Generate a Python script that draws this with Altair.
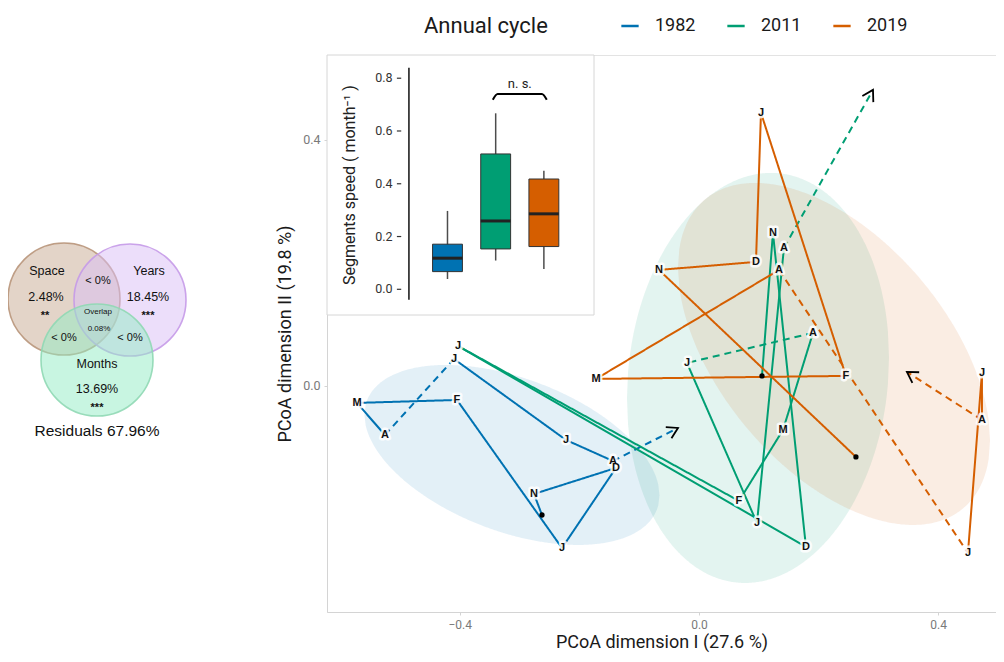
import math
import numpy as np
import pandas as pd
import altair as alt

# ---------------- data ----------------
years = ["1982", "2011", "2019"]
year_colors = ["#0072B2", "#009E73", "#D55E00"]

# path order: start point, N, D, J, F, M, A, J, J, A, arrow end
month_labels = ["", "N", "D", "J", "F", "M", "A", "J", "J", "A", ""]
segment_style = ["solid", "solid", "solid", "solid", "solid", "solid",
                 "dashed", "solid", "solid", "dashed"]

pc1_1982 = [-0.2625, -0.2759, -0.1388, -0.2291, -0.4047, -0.5719, -0.5251, -0.4097, -0.2224, -0.1438, -0.0351]
pc2_1982 = [-0.2098, -0.1756, -0.1333, -0.2634, -0.0228, -0.0276, -0.0797, 0.0439, -0.0878, -0.1220, -0.0683]
pc1_2011 = [0.1054, 0.1237, 0.1789, -0.4030, 0.0669, 0.1405, 0.1906, -0.0201, 0.0970, 0.1421, 0.2910]
pc2_2011 = [0.0163, 0.2488, -0.2618, 0.0650, -0.1870, -0.0715, 0.0862, 0.0374, -0.2228, 0.2244, 0.4813]
pc1_2019 = [0.2625, -0.0669, 0.0953, 0.1037, 0.2458, -0.1722, 0.1338, 0.4498, 0.4732, 0.4732, 0.3478]
pc2_2019 = [-0.1154, 0.1886, 0.2016, 0.4439, 0.0163, 0.0114, 0.1886, -0.2715, 0.0211, -0.0553, 0.0228]

# confidence ellipses (centre, sd along x/y, covariance)
ell_cx = [-0.3127, 0.0987, 0.2258]
ell_cy = [-0.1122, 0.0130, 0.0520]
ell_sx = [0.2467, 0.2191, 0.2609]
ell_sy = [0.1463, 0.3333, 0.2780]
ell_cxy = [-0.01615, 0.00725, -0.0367]

# inset boxplot of segment speeds
box_low = [0.039, 0.109, 0.077]
box_q1 = [0.067, 0.153, 0.162]
box_med = [0.118, 0.259, 0.286]
box_q3 = [0.171, 0.513, 0.418]
box_high = [0.297, 0.667, 0.449]
inset_ticks = [0.0, 0.2, 0.4, 0.6, 0.8]

# variance partitioning (Venn)
venn_sets = ["Space", "Years", "Months"]
venn_pct = ["2.48%", "18.45%", "13.69%"]
venn_sig = ["**", "***", "***"]
venn_pair = ["< 0%", "< 0%", "< 0%"]
venn_overlap = "0.08%"
venn_resid = "Residuals 67.96%"
venn_fill = ["#c7a991", "#d9bdf5", "#91ebc3"]
venn_stroke = ["#b8957a", "#c59ae8", "#8fd8b4"]

# ---------------- layout ----------------
W, H = 669, 557
X_DOMAIN = [-0.622, 0.4967]
Y_DOMAIN = [-0.3675, 0.538]
sx = W / (X_DOMAIN[1] - X_DOMAIN[0])
sy = H / (Y_DOMAIN[1] - Y_DOMAIN[0])
FONT = "Roboto"
LBL_FONT = "Liberation Sans"


def xs():
    return alt.Scale(domain=X_DOMAIN, nice=False, zero=False)


def ys():
    return alt.Scale(domain=Y_DOMAIN, nice=False, zero=False)


pcs = {"1982": (pc1_1982, pc2_1982), "2011": (pc1_2011, pc2_2011), "2019": (pc1_2019, pc2_2019)}

seg_rows, lab_rows, dot_rows, arr_rows = [], [], [], []
for yr in years:
    px, py = pcs[yr]
    n = len(px)
    for j in range(n - 1):
        seg_rows.append(dict(year=yr, x=px[j], y=py[j], x2=px[j + 1], y2=py[j + 1], style=segment_style[j]))
    for j in range(1, n - 1):
        lab_rows.append(dict(year=yr, x=px[j], y=py[j], label=month_labels[j]))
    dot_rows.append(dict(year=yr, x=px[0], y=py[0]))
    dx = (px[-1] - px[-2]) * sx
    dy = -(py[-1] - py[-2]) * sy
    ang = math.degrees(math.atan2(dy, dx)) % 360
    arr_rows.append(dict(year=yr, x=px[-1], y=py[-1], ang=ang))

seg_df = pd.DataFrame(seg_rows)
lab_df = pd.DataFrame(lab_rows)
dot_df = pd.DataFrame(dot_rows)
arr_df = pd.DataFrame(arr_rows)

ell_rows = []
for i, yr in enumerate(years):
    a2 = ell_sx[i] ** 2
    det = a2 * ell_sy[i] ** 2 - ell_cxy[i] ** 2
    for dxv in np.linspace(-ell_sx[i], ell_sx[i], 241):
        root = math.sqrt(max(det * (a2 - dxv ** 2), 0.0))
        ell_rows.append(dict(year=yr, col=year_colors[i], x=ell_cx[i] + dxv,
                             ytop=ell_cy[i] + (ell_cxy[i] * dxv + root) / a2,
                             ybot=ell_cy[i] + (ell_cxy[i] * dxv - root) / a2))
ell_df = pd.DataFrame(ell_rows)

# ---------------- main PCoA panel ----------------
x_axis = alt.Axis(title="PCoA dimension I (27.6 %)", values=[-0.4, 0.0, 0.4], format=".1f",
                  orient="bottom", grid=False, domainColor="#d4d4d4", tickColor="#d4d4d4",
                  tickSize=3, labelColor="#7a7a7a", labelFontSize=12, labelPadding=4,
                  titleFontSize=18, titleFontWeight="normal", titleColor="#1a1a1a", titlePadding=3)
y_axis = alt.Axis(title="PCoA dimension II (19.8 %)", values=[0.0, 0.4], format=".1f",
                  orient="left", grid=False, domainColor="#d4d4d4", tickColor="#d4d4d4",
                  tickSize=3, labelColor="#7a7a7a", labelFontSize=12.5, labelPadding=4,
                  titleFontSize=18, titleFontWeight="normal", titleColor="#1a1a1a", titlePadding=8)

ellipses = alt.Chart(ell_df).mark_area(fillOpacity=0.11, strokeWidth=0).encode(
    x=alt.X("x:Q", scale=xs(), axis=x_axis),
    y=alt.Y("ytop:Q", scale=ys(), axis=y_axis, stack=None),
    y2="ybot:Q",
    color=alt.Color("col:N", scale=None),
    detail="year:N",
)

segments = alt.Chart(seg_df).mark_rule(strokeWidth=2).encode(
    x=alt.X("x:Q", scale=xs(), axis=None),
    y=alt.Y("y:Q", scale=ys(), axis=None),
    x2="x2:Q", y2="y2:Q",
    color=alt.Color("year:N", scale=alt.Scale(domain=years, range=year_colors),
                    legend=alt.Legend(title="Annual cycle", orient="none", legendX=97, legendY=-39,
                                      direction="horizontal", titleOrient="left", titleFontSize=22,
                                      titleFontWeight="normal", titleColor="#1a1a1a", titleFont=FONT,
                                      labelFont=FONT, labelFontSize=18, labelColor="#1a1a1a",
                                      symbolType="stroke", symbolStrokeWidth=2.5, symbolSize=300,
                                      labelOffset=15, columnPadding=26, titlePadding=72)),
    strokeDash=alt.StrokeDash("style:N", scale=alt.Scale(domain=["solid", "dashed"], range=[[1, 0], [7, 5]]),
                              legend=None),
)

dots = alt.Chart(dot_df).mark_circle(size=28, color="black", opacity=1).encode(
    x=alt.X("x:Q", scale=xs(), axis=None), y=alt.Y("y:Q", scale=ys(), axis=None))

arrows = alt.Chart(arr_df).mark_point(shape="M -1 -0.6 L 0 0 L -1 0.6", filled=False, color="black",
                                       strokeWidth=1.8, size=440, opacity=1).encode(
    x=alt.X("x:Q", scale=xs(), axis=None), y=alt.Y("y:Q", scale=ys(), axis=None),
    angle=alt.Angle("ang:Q", scale=None))

halo = alt.Chart(lab_df).mark_text(font=LBL_FONT, fontWeight="bold", fontSize=11, color="white",
                                    stroke="white", strokeWidth=5, strokeOpacity=0.85, strokeJoin="round").encode(
    x=alt.X("x:Q", scale=xs(), axis=None), y=alt.Y("y:Q", scale=ys(), axis=None), text="label:N")
labels = alt.Chart(lab_df).mark_text(font=LBL_FONT, fontWeight="bold", fontSize=11, color="#111").encode(
    x=alt.X("x:Q", scale=xs(), axis=None), y=alt.Y("y:Q", scale=ys(), axis=None), text="label:N")

# ---------------- inset boxplot ----------------
IX = [-1.5, 4.04]
IY = [-0.0974, 0.888]


def ixs():
    return alt.Scale(domain=IX, range=[0, 267], nice=False, zero=False)


def iys():
    return alt.Scale(domain=IY, range=[260, 0], nice=False, zero=False)


BW = 0.31

box_df = pd.DataFrame(dict(pos=[1, 2, 3], year=years, col=year_colors, low=box_low, q1=box_q1,
                           med=box_med, q3=box_q3, high=box_high))
box_df["left"] = box_df["pos"] - BW
box_df["right"] = box_df["pos"] + BW

bg = alt.Chart(pd.DataFrame(dict(x=[IX[0]], x2=[IX[1]], y=[IY[0]], y2=[IY[1]]))).mark_rect(
    fill="white", stroke="#d6d6d6", strokeWidth=1).encode(
    x=alt.X("x:Q", scale=ixs(), axis=None), x2="x2:Q", y=alt.Y("y:Q", scale=iys(), axis=None), y2="y2:Q")

whisk = alt.Chart(box_df).mark_rule(color="#4d4d4d", strokeWidth=1.5).encode(
    x=alt.X("pos:Q", scale=ixs(), axis=None), y=alt.Y("low:Q", scale=iys(), axis=None), y2="high:Q")
boxes = alt.Chart(box_df).mark_rect(stroke="#333333", strokeWidth=1).encode(
    x=alt.X("left:Q", scale=ixs(), axis=None), x2="right:Q",
    y=alt.Y("q1:Q", scale=iys(), axis=None), y2="q3:Q",
    fill=alt.Fill("col:N", scale=None))
meds = alt.Chart(box_df).mark_rule(color="#222222", strokeWidth=3).encode(
    x=alt.X("left:Q", scale=ixs(), axis=None), x2="right:Q", y=alt.Y("med:Q", scale=iys(), axis=None))

AX_X = 0.2
axis_line = alt.Chart(pd.DataFrame(dict(x=[AX_X], y=[-0.04], y2=[0.84]))).mark_rule(
    color="#111", strokeWidth=1.5).encode(
    x=alt.X("x:Q", scale=ixs(), axis=None), y=alt.Y("y:Q", scale=iys(), axis=None), y2="y2:Q")
tick_df = pd.DataFrame(dict(v=inset_ticks, lab=[f"{v:.1f}" for v in inset_ticks],
                            x=[-0.05] * 5, x2=[0.04] * 5, xl=[-0.14] * 5))
ticks = alt.Chart(tick_df).mark_rule(color="#333", strokeWidth=1.2).encode(
    x=alt.X("x:Q", scale=ixs(), axis=None), x2="x2:Q", y=alt.Y("v:Q", scale=iys(), axis=None))
tick_lab = alt.Chart(tick_df).mark_text(align="right", baseline="middle", fontSize=12.5, color="#333",
                                        font=FONT).encode(
    x=alt.X("xl:Q", scale=ixs(), axis=None), y=alt.Y("v:Q", scale=iys(), axis=None), text="lab:N")
ititle = alt.Chart(pd.DataFrame(dict(x=[-1.02], y=[0.395], t=["Segments speed ( month\u207b\u00b9 )"]))).mark_text(
    angle=270, fontSize=16, color="#222", font=FONT, baseline="middle").encode(
    x=alt.X("x:Q", scale=ixs(), axis=None), y=alt.Y("y:Q", scale=iys(), axis=None), text="t:N")
bracket = alt.Chart(pd.DataFrame(dict(x=[1.94, 2.04, 2.96, 3.06], y=[0.718, 0.740, 0.740, 0.718],
                                      o=[0, 1, 2, 3]))).mark_line(
    color="black", strokeWidth=2, interpolate="monotone").encode(
    x=alt.X("x:Q", scale=ixs(), axis=None), y=alt.Y("y:Q", scale=iys(), axis=None), order="o:Q")
ns = alt.Chart(pd.DataFrame(dict(x=[2.5], y=[0.778], t=["n. s."]))).mark_text(
    fontSize=13, color="#222", font=FONT).encode(
    x=alt.X("x:Q", scale=ixs(), axis=None), y=alt.Y("y:Q", scale=iys(), axis=None), text="t:N")

# ---------------- Venn diagram ----------------
def vxs():
    return alt.Scale(domain=[0, 200], range=[-327, -127], nice=False, zero=False)


def vys():
    return alt.Scale(domain=[0, 210], range=[175, 385], nice=False, zero=False)


VR = 56  # circle radius in px
circ_df = pd.DataFrame(dict(name=venn_sets, fill=venn_fill, stroke=venn_stroke,
                            cx=[64, 130, 97], cy=[69, 70, 130]))
circles = alt.Chart(circ_df).mark_circle(size=(2 * VR) ** 2, opacity=1, fillOpacity=0.5,
                                          strokeWidth=1.6, strokeOpacity=0.9).encode(
    x=alt.X("cx:Q", scale=vxs(), axis=None), y=alt.Y("cy:Q", scale=vys(), axis=None),
    fill=alt.Fill("fill:N", scale=None), stroke=alt.Stroke("stroke:N", scale=None))

vt = [venn_sets[0], venn_pct[0], venn_sig[0], venn_sets[1], venn_pct[1], venn_sig[1],
      venn_pair[0], "Overlap", venn_overlap, venn_pair[1], venn_pair[2],
      venn_sets[2], venn_pct[2], venn_sig[2], venn_resid]
vx = [47, 46, 45, 149, 148, 148, 98, 98, 99, 64, 130, 97, 97, 97, 97]
vy = [41, 67, 86, 41, 67, 86, 51, 82, 99, 108, 108, 134, 159, 178, 201]
vs = [12.5, 12.5, 11, 12.5, 12.5, 11, 11, 8, 8, 11, 11, 12.5, 12.5, 11, 15.5]
vb = [False, False, True, False, False, True, False, False, False,
      False, False, False, False, True, False]
vtext_df = pd.DataFrame(dict(t=vt, x=vx, y=vy, s=vs, b=vb))
vtexts = alt.Chart(vtext_df[~vtext_df["b"]]).mark_text(font=LBL_FONT, color="#111", baseline="middle").encode(
    x=alt.X("x:Q", scale=vxs(), axis=None), y=alt.Y("y:Q", scale=vys(), axis=None), text="t:N",
    size=alt.Size("s:Q", scale=None))
vstars = alt.Chart(vtext_df[vtext_df["b"]]).mark_text(font=LBL_FONT, color="#111", baseline="middle",
                                                      fontWeight="bold").encode(
    x=alt.X("x:Q", scale=vxs(), axis=None), y=alt.Y("y:Q", scale=vys(), axis=None), text="t:N",
    size=alt.Size("s:Q", scale=None))

chart = alt.layer(
    ellipses, segments, dots, arrows, halo, labels,
    bg, whisk, boxes, meds, axis_line, ticks, tick_lab, ititle, bracket, ns,
    circles, vtexts, vstars,
).resolve_scale(
    x="independent", y="independent"
).properties(
    width=W, height=H,
    autosize=alt.AutoSizeParams(type="none"),
    padding={"left": 319, "top": 47, "right": 0, "bottom": 42},
).configure(font=FONT).configure_view(stroke="#e3e3e3", strokeWidth=1)

chart.save("out.html", embed_options={"renderer": "svg", "actions": False})
